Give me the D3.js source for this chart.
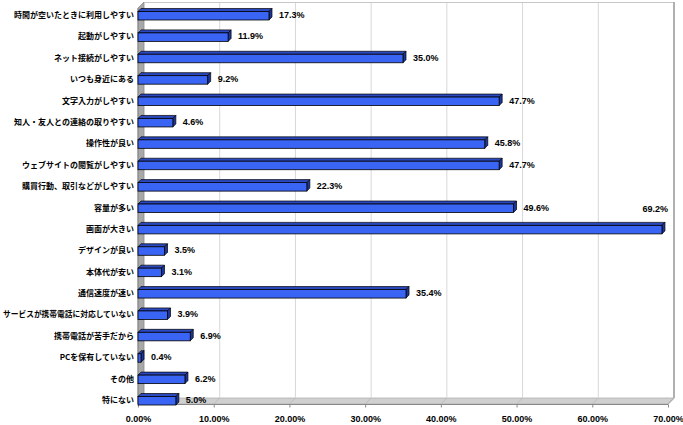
<!DOCTYPE html>
<html><head><meta charset="utf-8">
<script src="https://cdn.jsdelivr.net/npm/d3@7"></script>
<style>body{margin:0;background:#fff}svg{display:block}</style>
</head><body>
<script>
const categories = ["時間が空いたときに利用しやすい","起動がしやすい","ネット接続がしやすい","いつも身近にある","文字入力がしやすい","知人・友人との連絡の取りやすい","操作性が良い","ウェブサイトの閲覧がしやすい","購買行動、取引などがしやすい","容量が多い","画面が大きい","デザインが良い","本体代が安い","通信速度が速い","サービスが携帯電話に対応していない","携帯電話が苦手だから","PCを保有していない","その他","特にない"];
const values = [17.3,11.9,35.0,9.2,47.7,4.6,45.8,47.7,22.3,49.6,69.2,3.5,3.1,35.4,3.9,6.9,0.4,6.2,5.0];
const ticks = [0,10,20,30,40,50,60,70];

(function(){
const W=683,H=425;
const svg=d3.select("body").append("svg").attr("width",W).attr("height",H);
const x=d3.scaleLinear().domain([0,70]).range([138,668]);
const y=d3.scaleBand().domain(categories).range([4.3,410.7]);
const D=6, yTop=2, bot=404, bd=3;

svg.append("polygon").attr("points",`${x(0)},${yTop+D} ${x(0)+D},${yTop} ${x(0)+D},${bot-D} ${x(0)},${bot}`)
  .attr("fill","#a8a8a8").attr("stroke","#8c8c8c").attr("stroke-width",0.8);
svg.append("polygon").attr("points",`${x(0)},${bot} ${x(0)+D},${bot-D} ${x(70)+D},${bot-D} ${x(70)},${bot}`)
  .attr("fill","#d0d0d0").attr("stroke","#b0b0b0").attr("stroke-width",0.8);
svg.selectAll("line.grid").data(ticks.slice(1)).join("line").attr("class","grid")
  .attr("x1",d=>x(d)+D).attr("x2",d=>x(d)+D).attr("y1",yTop).attr("y2",bot-D)
  .attr("stroke","#d8d8d8").attr("stroke-width",1);
svg.selectAll("line.fgrid").data(ticks.slice(1)).join("line").attr("class","fgrid")
  .attr("x1",d=>x(d)+D).attr("x2",d=>x(d)).attr("y1",bot-D).attr("y2",bot)
  .attr("stroke","#b8b8b8").attr("stroke-width",0.8);
svg.append("line").attr("x1",x(0)+D).attr("x2",x(70)+D).attr("y1",yTop+0.5).attr("y2",yTop+0.5).attr("stroke","#c8c8c8");
svg.append("line").attr("x1",x(70)+D).attr("x2",x(70)+D).attr("y1",yTop).attr("y2",bot-D).attr("stroke","#b0b0b0").attr("stroke-width",2);
svg.append("line").attr("x1",x(70)+D).attr("x2",x(70)).attr("y1",bot-D).attr("y2",bot).attr("stroke","#b0b0b0").attr("stroke-width",1.2);
svg.append("line").attr("x1",x(0)).attr("x2",x(70)).attr("y1",bot+0.5).attr("y2",bot+0.5).attr("stroke","#888");
svg.append("line").attr("x1",x(0)).attr("x2",x(0)).attr("y1",yTop+D).attr("y2",bot).attr("stroke","#888");

const xa=d3.axisBottom(x).tickValues(ticks).tickSize(3).tickFormat(d=>d.toFixed(2)+"%");
const gx=svg.append("g").attr("transform",`translate(0,${bot+0.5})`).call(xa);
gx.select(".domain").remove();
gx.selectAll(".tick line").attr("stroke","#888");
gx.selectAll("text").attr("font-family","Liberation Sans, Arial, sans-serif").attr("font-weight","bold").attr("font-size","9px").attr("fill","#000").attr("y",9).attr("dy","0.9em");

const g=svg.append("g");
categories.forEach((c,i)=>{
  const v=values[i];
  const cy=y(c)+y.bandwidth()/2;
  const x0=x(0), x1=x(v);
  const y0=cy-3.5, y1=cy+5;
  g.append("polygon").attr("points",`${x0},${y0} ${x0+bd},${y0-bd} ${x1+bd},${y0-bd} ${x1},${y0}`)
    .attr("fill","#2a48c0").attr("stroke","#000").attr("stroke-width",0.7);
  g.append("polygon").attr("points",`${x1},${y0} ${x1+bd},${y0-bd} ${x1+bd},${y1-bd} ${x1},${y1}`)
    .attr("fill","#1d3596").attr("stroke","#000").attr("stroke-width",0.7);
  g.append("rect").attr("x",x0).attr("y",y0).attr("width",x1-x0).attr("height",y1-y0)
    .attr("fill","#3a64f4").attr("stroke","#000").attr("stroke-width",0.8);
  const lab=v.toFixed(1)+"%";
  const t=g.append("text").text(lab).attr("font-family","Liberation Sans, Arial, sans-serif")
    .attr("font-weight","bold").attr("font-size","9px").attr("fill","#000");
  if(x1+45>W){ t.attr("x",x1+6).attr("y",cy-17).attr("text-anchor","end"); }
  else { t.attr("x",x1+bd+7).attr("y",cy+3); }
  const ct=g.append("text").text(c).attr("x",134).attr("y",cy+3).attr("text-anchor","end")
    .attr("font-family","Noto Sans CJK JP, sans-serif").attr("font-weight","bold")
    .attr("font-size","8px").attr("fill","#000");
  const len=ct.node().getComputedTextLength();
  if(len>131){ ct.attr("textLength",131).attr("lengthAdjust","spacingAndGlyphs"); }
});
})();
</script>
</body></html>
